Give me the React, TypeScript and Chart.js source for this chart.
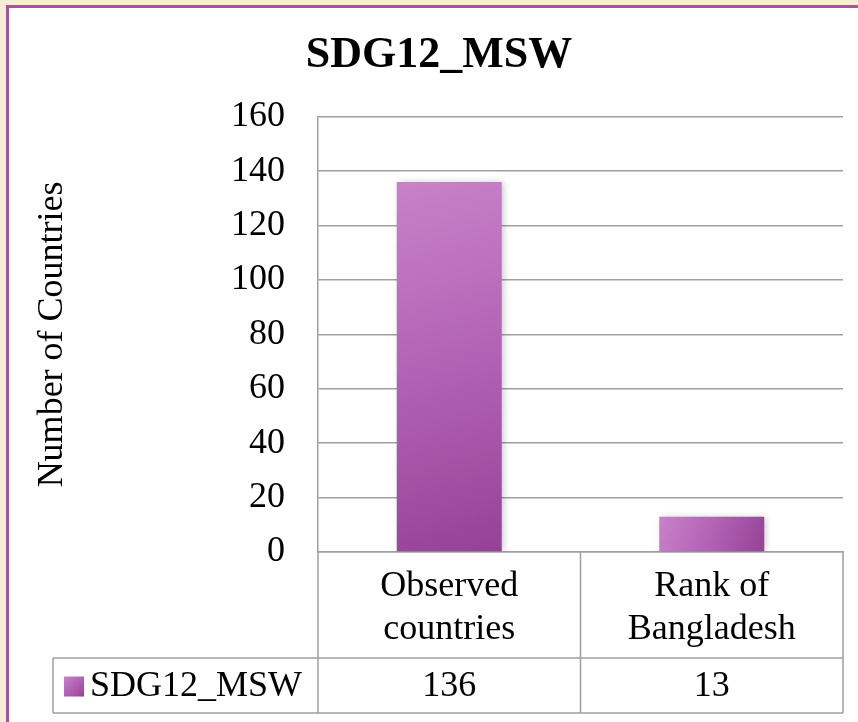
import React, { useEffect, useRef } from "react";
import { Chart, registerables } from "chart.js";

Chart.register(...registerables);

const chartTitle = "SDG12_MSW";
const seriesName = "SDG12_MSW";
const categories = [
  ["Observed", "countries"],
  ["Rank of", "Bangladesh"],
];
const values = [136, 13];
const yAxisTitle = "Number of Countries";
const yMin = 0;
const yMax = 160;
const yStep = 20;

const FONT = "'Liberation Serif', 'Times New Roman', serif";
const GRID = "#a0a0a0";
const LIGHT = "#c882c8";
const MID = "#b262b4";
const DARK = "#944295";

function barGradient(ctx: CanvasRenderingContext2D, x0: number, y0: number, x1: number, y1: number) {
  if (![x0, y0, x1, y1].every((v) => Number.isFinite(v))) return MID;
  const g = ctx.createLinearGradient(x0, y0, x1, y1);
  g.addColorStop(0, LIGHT);
  g.addColorStop(0.5, MID);
  g.addColorStop(1, DARK);
  return g;
}

const tablePlugin = {
  id: "dataTable",
  beforeDatasetsDraw(chart: any) {
    const ctx = chart.ctx;
    ctx.save();
    ctx.shadowColor = "rgba(0,0,0,0.22)";
    ctx.shadowBlur = 7;
    ctx.shadowOffsetX = 2;
    ctx.shadowOffsetY = 0;
  },
  afterDatasetsDraw(chart: any) {
    chart.ctx.restore();
  },
  afterDraw(chart: any) {
    const { ctx, chartArea } = chart;
    const x = chart.scales.x;
    const n = values.length;
    const top = chartArea.bottom;
    const legendTop = top + 106;
    const bottom = top + 161;
    const legendLeft = 53;
    ctx.save();
    ctx.strokeStyle = GRID;
    ctx.lineWidth = 1.5;
    ctx.beginPath();
    for (let i = 0; i <= n; i++) {
      const px = x.getPixelForValue(i - 0.5);
      ctx.moveTo(px, top);
      ctx.lineTo(px, bottom);
    }
    ctx.moveTo(legendLeft, legendTop);
    ctx.lineTo(x.right, legendTop);
    ctx.moveTo(legendLeft, bottom);
    ctx.lineTo(x.right, bottom);
    ctx.moveTo(legendLeft, legendTop);
    ctx.lineTo(legendLeft, bottom);
    ctx.stroke();

    const midY = (legendTop + bottom) / 2 + 1;
    const bx = legendLeft + 11;
    const bs = 20;
    ctx.fillStyle = barGradient(ctx, bx, midY - bs / 2, bx + bs, midY + bs / 2);
    ctx.fillRect(bx, midY - bs / 2, bs, bs);

    ctx.fillStyle = "#000";
    ctx.font = `36px ${FONT}`;
    ctx.textBaseline = "middle";
    ctx.textAlign = "left";
    ctx.fillText(seriesName, bx + bs + 6, midY);
    ctx.textAlign = "center";
    for (let i = 0; i < n; i++) {
      ctx.fillText(String(values[i]), x.getPixelForValue(i), midY);
    }
    ctx.restore();
  },
};

export default function App() {
  const ref = useRef<HTMLCanvasElement>(null);
  useEffect(() => {
    if (!ref.current) return;
    const chart = new Chart(ref.current, {
      type: "bar",
      data: {
        labels: categories as any,
        datasets: [
          {
            label: seriesName,
            data: values,
            categoryPercentage: 0.8,
            barPercentage: 0.5,
            borderWidth: 0,
            backgroundColor: (c: any) => {
              const ch = c.chart;
              const xs = ch.scales?.x;
              const ys = ch.scales?.y;
              if (!xs || !ys || c.dataIndex === undefined) return MID;
              const cx = xs.getPixelForValue(c.dataIndex);
              const hw = ((xs.right - xs.left) / values.length) * 0.4 / 2;
              const t = ys.getPixelForValue(values[c.dataIndex]);
              const b = ys.getPixelForValue(0);
              return barGradient(ch.ctx, cx - hw, t, cx + hw, b);
            },
          },
        ],
      },
      options: {
        responsive: false,
        animation: false,
        devicePixelRatio: 1,
        layout: { padding: { left: 35, right: 15, top: 0, bottom: 0 } },
        plugins: {
          legend: { display: false },
          tooltip: { enabled: false },
          title: {
            display: true,
            text: chartTitle,
            color: "#000",
            font: { family: FONT, size: 44, weight: "bold", lineHeight: 1.2 },
            padding: { top: 29, bottom: 35 },
          },
        },
        scales: {
          x: {
            offset: true,
            grid: { display: false, drawTicks: false },
            border: { display: true, color: GRID, width: 1.5 },
            ticks: {
              color: "#000",
              font: { family: FONT, size: 36, lineHeight: 1.2 },
              padding: 13,
              maxRotation: 0,
              autoSkip: false,
            },
            afterFit: (s: any) => {
              s.height = 170;
            },
          },
          y: {
            min: yMin,
            max: yMax,
            grid: { color: GRID, lineWidth: 1.5, drawTicks: false },
            border: { display: true, color: GRID, width: 1.5 },
            ticks: {
              stepSize: yStep,
              color: "#000",
              font: { family: FONT, size: 36 },
              padding: 33,
            },
            title: {
              display: true,
              text: yAxisTitle,
              color: "#000",
              font: { family: FONT, size: 36, lineHeight: 1 },
              padding: { top: 0, bottom: 0 },
            },
            afterFit: (s: any) => {
              s.width = 318 - 35;
            },
          },
        },
      },
      plugins: [tablePlugin],
    });
    return () => chart.destroy();
  }, []);

  return (
    <div
      style={{
        position: "fixed",
        left: 0,
        top: 0,
        width: 858,
        height: 722,
        overflow: "hidden",
        background: "#f7ecd6",
      }}
    >
      <div
        style={{
          position: "absolute",
          left: 6,
          top: 5,
          right: 0,
          bottom: 0,
          borderTop: "3px solid #a352a5",
          borderLeft: "3px solid #a352a5",
          background: "#ffffff",
        }}
      />
      <canvas
        ref={ref}
        width={858}
        height={722}
        style={{ position: "absolute", left: 0, top: 0, width: 858, height: 722 }}
      />
    </div>
  );
}
